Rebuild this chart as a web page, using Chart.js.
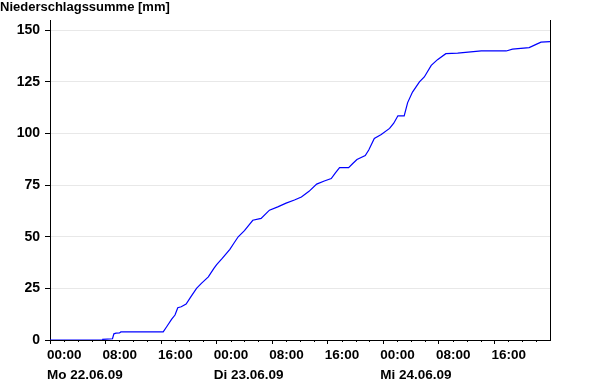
<!DOCTYPE html>
<html><head><meta charset="utf-8">
<script src="https://cdn.jsdelivr.net/npm/chart.js@4/dist/chart.umd.min.js"></script>
<style>html,body{margin:0;padding:0;background:#fff}#wrap{width:600px;height:385px}</style>
</head><body><div id="wrap"><canvas id="c" width="600" height="385"></canvas></div>
<script>
// hours since Mo 22.06.09 00:00
const hours = [0,7.5,7.6,9.0,9.2,9.5,10.0,10.2,16.3,16.8,17.5,18.0,18.4,18.9,19.6,20.3,21.1,21.8,22.8,23.6,24.0,24.8,25.9,26.5,27.1,28.0,29.2,30.4,31.6,32.8,34.0,35.2,36.2,37.3,38.4,39.5,40.5,41.1,41.7,43.0,43.6,44.2,45.4,45.9,46.7,47.7,48.9,49.5,50.1,51.0,51.5,52.2,53.2,53.9,54.9,55.8,57.0,58.7,62.1,65.7,66.6,69.0,70.0,70.7,72.0];
// cumulative precipitation [mm]
const values = [0,0,0.3,0.6,3.0,3.3,3.4,3.9,3.9,6.4,10,12.1,15.6,16.1,17.4,21,25,27.4,30.6,34.7,36.5,39.5,43.9,47,50,53,58,58.9,62.9,64.5,66.3,67.8,69.3,72,75.5,77,78.2,81,83.5,83.5,85.5,87.4,89.3,92,97.6,99.5,102.5,105,108.6,108.6,115,120.1,125,127.4,133,135.8,138.7,139,140,140,140.9,141.6,143.2,144.3,144.5];
const xTickHours = [0,8,16,24,32,40,48,56,64,72];
const xTickTimes = ['00:00','08:00','16:00','00:00','08:00','16:00','00:00','08:00','16:00',''];
const xTickDates = ['Mo 22.06.09','','','Di 23.06.09','','','Mi 24.06.09','','',''];
const minorTickHours = [2,4,6,10,12,14,18,20,22,26,28,30,34,36,38,42,44,46,50,52,54,58,60,62,66,68,70];
const yTicks = [0,25,50,75,100,125,150];
const yTitle = 'Niederschlagssumme [mm]';

const FONT = 'Liberation Sans, Arial, sans-serif';
const minorTicks = {
  id: 'minorTicks',
  afterDraw(chart) {
    const ctx = chart.ctx, xs = chart.scales.x, b = chart.chartArea.bottom;
    ctx.save();
    ctx.strokeStyle = '#000'; ctx.lineWidth = 1;
    ctx.beginPath();
    minorTickHours.forEach(h => {
      const px = Math.round(xs.getPixelForValue(h)) + 0.5;
      ctx.moveTo(px, b); ctx.lineTo(px, b + 2);
    });
    ctx.stroke();
    ctx.restore();
  }
};

new Chart(document.getElementById('c'), {
  type: 'line',
  data: { datasets: [{
    data: hours.map((h, i) => ({ x: h, y: values[i] })),
    borderColor: '#0000ff', borderWidth: 1.2, pointRadius: 0, tension: 0, fill: false
  }]},
  options: {
    responsive: false, animation: false, devicePixelRatio: 1,
    layout: { padding: { left: 0, right: 50, top: 0, bottom: 0 } },
    plugins: {
      legend: { display: false }, tooltip: { enabled: false },
      title: { display: true, text: yTitle, align: 'start', color: '#000',
        font: { family: FONT, size: 13, weight: 'bold', lineHeight: 14/13 },
        padding: { top: 0, bottom: 6 } }
    },
    scales: {
      x: {
        type: 'linear', min: 0, max: 72,
        afterBuildTicks: s => { s.ticks = xTickHours.map(v => ({ value: v })); },
        afterFit: s => { s.height = 45; },
        ticks: {
          autoSkip: false, maxRotation: 0, minRotation: 0, align: 'start', labelOffset: -3, padding: 1,
          color: '#000', font: { family: FONT, size: 13.5, weight: 'bold', lineHeight: 20/13.5 },
          callback: (v, i) => xTickDates[i] ? [xTickTimes[i], xTickDates[i]] : xTickTimes[i]
        },
        grid: {
          color: c => (c.tick && c.tick.value === 72) ? '#000' : 'rgba(0,0,0,0)',
          tickColor: c => (c.tick && c.tick.value === 72) ? 'rgba(0,0,0,0)' : '#000',
          tickLength: 4, lineWidth: 1
        },
        border: { color: '#000', width: 1 }
      },
      y: {
        min: 0, max: 155,
        afterBuildTicks: s => { s.ticks = yTicks.map(v => ({ value: v })); },
        afterFit: s => { s.width = 50; },
        ticks: { padding: 5, color: '#000', font: { family: FONT, size: 14, weight: 'bold' } },
        grid: { color: '#e8e8e8', tickColor: '#000', tickLength: 5, lineWidth: 1 },
        border: { color: '#000', width: 1 }
      }
    }
  },
  plugins: [minorTicks]
});
</script></body></html>
